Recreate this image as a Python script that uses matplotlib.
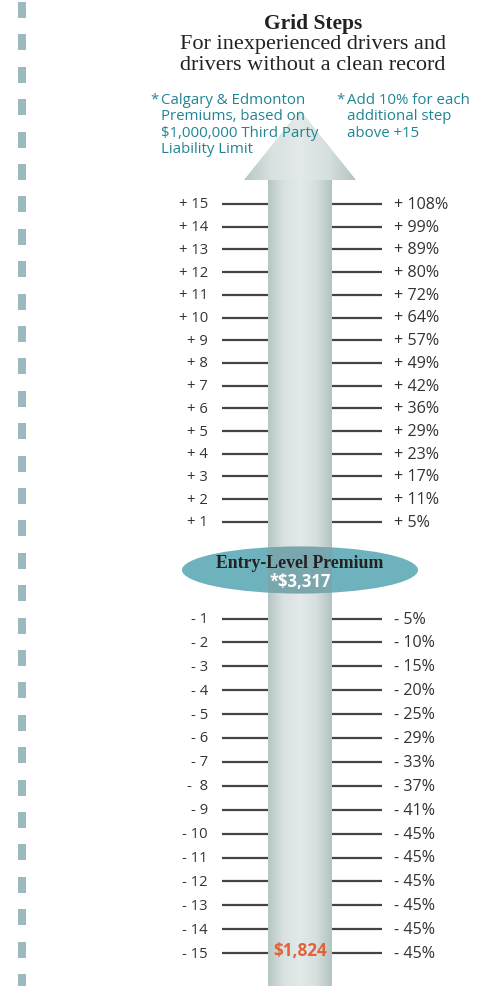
import numpy as np
import matplotlib
matplotlib.use('Agg')
import matplotlib.pyplot as plt
from matplotlib.patches import Polygon, Rectangle, Ellipse
from matplotlib.colors import LinearSegmentedColormap

# grid step labels and premium changes (top to bottom)
up_steps = ['+ 15', '+ 14', '+ 13', '+ 12', '+ 11', '+ 10', '+ 9', '+ 8',
            '+ 7', '+ 6', '+ 5', '+ 4', '+ 3', '+ 2', '+ 1']
up_pct = ['+ 108%', '+ 99%', '+ 89%', '+ 80%', '+ 72%', '+ 64%', '+ 57%', '+ 49%',
          '+ 42%', '+ 36%', '+ 29%', '+ 23%', '+ 17%', '+ 11%', '+ 5%']
down_steps = ['- 1', '- 2', '- 3', '- 4', '- 5', '- 6', '- 7', '-  8',
              '- 9', '- 10', '- 11', '- 12', '- 13', '- 14', '- 15']
down_pct = ['- 5%', '- 10%', '- 15%', '- 20%', '- 25%', '- 29%', '- 33%', '- 37%',
            '- 41%', '- 45%', '- 45%', '- 45%', '- 45%', '- 45%', '- 45%']
entry_premium = '*$3,317'
lowest_premium = '$1,824'

title = 'Grid Steps'
subtitle = ['For inexperienced drivers and', 'drivers without a clean record']
note_left = ['Calgary & Edmonton', 'Premiums, based on', '$1,000,000 Third Party', 'Liability Limit']
note_right = ['Add 10% for each', 'additional step', 'above +15']

W, H = 488, 987
fig = plt.figure(figsize=(W / 100, H / 100), dpi=100)
ax = fig.add_axes([0, 0, 1, 1])
ax.set_xlim(0, W)
ax.set_ylim(H, 0)
ax.axis('off')

serif = 'Liberation Serif'
sans = 'Open Sans'
teal_txt = '#1f8594'
dark = '#333333'

# dashed border on the left
dash_y = 3 + 32.4 * np.arange(31)
ax.bar(22, 16, bottom=dash_y, width=8, color='#9cb9bf', align='center')

# arrow: shaft + head, with a horizontal gradient
cx = 300
shaft_l, shaft_r = 268, 332
head_l, head_r, head_base, head_tip = 244, 356, 181, 111
cmap = LinearSegmentedColormap.from_list('shaft', ['#b6c6c4', '#d9e2e1', '#e3eae9', '#d6e0df', '#b3c3c1'])
grad = np.linspace(0, 1, 256).reshape(1, -1)

shaft = Rectangle((shaft_l, head_base - 1), shaft_r - shaft_l, H - head_base + 1, transform=ax.transData)
im = ax.imshow(grad, cmap=cmap, aspect='auto', extent=(shaft_l, shaft_r, H, head_base - 1), zorder=1)
im.set_clip_path(shaft)
head = Polygon([(head_l, head_base), (cx, head_tip), (head_r, head_base)], closed=True, transform=ax.transData)
im2 = ax.imshow(grad, cmap=cmap, aspect='auto', extent=(head_l, head_r, head_base, head_tip), zorder=1)
im2.set_clip_path(head)

# rows
x_left_lab, x_right_lab = 208, 394
tick_l = (222, shaft_l)
tick_r = (shaft_r, 382)
up_y = 205 + 22.7 * np.arange(len(up_steps))
down_y = 619.5 + 23.9 * np.arange(len(down_steps))

for labs, pcts, ys in [(up_steps, up_pct, up_y), (down_steps, down_pct, down_y)]:
    for lab, pct, y in zip(labs, pcts, ys):
        ax.plot(tick_l, [y, y], color='#444444', lw=1.6, solid_capstyle='butt', zorder=2)
        ax.plot(tick_r, [y, y], color='#444444', lw=1.6, solid_capstyle='butt', zorder=2)
        ax.text(x_left_lab, y, lab, ha='right', va='center', fontsize=10.6, family=sans, color=dark)
        ax.text(x_right_lab, y, pct, ha='left', va='center', fontsize=11.6, family=sans, color=dark)

# entry-level ellipse, with the shaft showing through it
ell_y = 571
ax.add_patch(Ellipse((cx, ell_y), 236, 47, facecolor='#6db2bd', edgecolor='none', zorder=3))
overlay = Rectangle((shaft_l, ell_y - 24), shaft_r - shaft_l, 48, facecolor='#8f9595',
                    edgecolor='none', alpha=0.4, zorder=4)
ax.add_patch(overlay)
overlay.set_clip_path(Ellipse((cx, ell_y), 236, 47, transform=ax.transData))
ax.text(cx, ell_y - 8, 'Entry-Level Premium', ha='center', va='center', fontsize=12.8,
        family=serif, fontweight='bold', color='#222222', zorder=5)
ax.text(cx, ell_y + 11, entry_premium, ha='center', va='center', fontsize=12,
        family=sans, fontweight='bold', color='white', zorder=5)

ax.text(cx, down_y[-1] - 3, lowest_premium, ha='center', va='center', fontsize=12.3,
        family=sans, fontweight='bold', color='#e0623a', zorder=5)

# titles
ax.text(313, 24, title, ha='center', va='center', fontsize=15.5, family=serif,
        fontweight='bold', color='#222222')
for i, line in enumerate(subtitle):
    ax.text(313, 45 + 20 * i, line, ha='center', va='center', fontsize=16,
            family=serif, color='#222222')

# notes
for x_star, lines in [(150, note_left), (336, note_right)]:
    ax.text(x_star, 100, '*', ha='left', va='center', fontsize=10.8, family=sans, color=teal_txt, zorder=5)
    for i, line in enumerate(lines):
        ax.text(x_star + 11, 100 + 16.6 * i, line, ha='left', va='center', fontsize=10.8,
                family=sans, color=teal_txt, zorder=5)

fig.savefig('out.png', dpi=100)
